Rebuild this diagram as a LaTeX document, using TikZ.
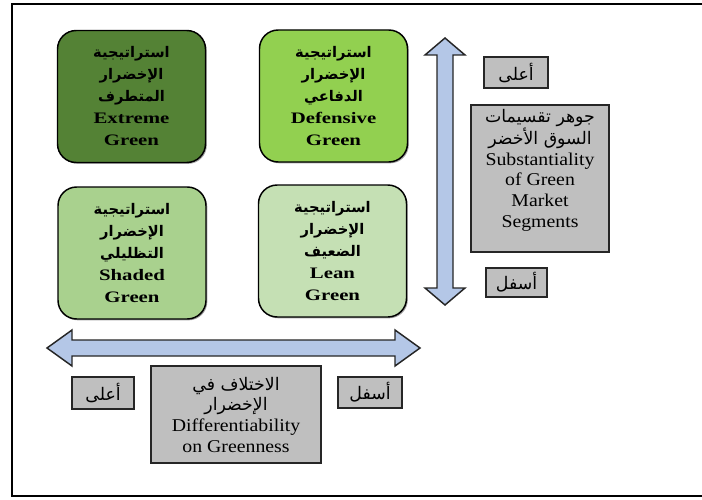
\documentclass[tikz,border=0pt]{standalone}
\usepackage{fontspec}
\setmainfont{Liberation Serif}
\newfontfamily\enbold{Liberation Serif}[FakeStretch=1.3]
\newfontfamily\enreg{Liberation Serif}[FakeStretch=1.1]
\newfontfamily\arfont[Script=Arabic]{DejaVu Sans}
\TeXXeTstate=1
\usetikzlibrary{shadows}
\definecolor{gExtreme}{HTML}{548235}
\definecolor{gDefensive}{HTML}{92D050}
\definecolor{gShaded}{HTML}{A9D18E}
\definecolor{gLean}{HTML}{C5E0B4}
\definecolor{grayfill}{HTML}{BFBFBF}
\definecolor{arrowblue}{HTML}{B4C7E7}
\newcommand\AB[1]{{\arfont\bfseries\fontsize{11}{16.5}\selectfont\beginR #1\endR}}
\newcommand\AR[1]{{\arfont\fontsize{13}{15.5}\selectfont\beginR #1\endR}}
\newcommand\EN[1]{{\enreg\fontsize{13.5}{15.5}\selectfont #1}}
\tikzset{
  greenbox/.style={draw=black, line width=1.1pt, rounded corners=14pt,
    minimum width=111pt, minimum height=99pt, inner sep=0pt, align=center,
    font=\enbold\bfseries\fontsize{12}{16.5}\selectfont,
    drop shadow={shadow xshift=1pt, shadow yshift=-1pt, fill=black!60, opacity=0.6}},
  graybox/.style={draw=black!85, line width=0.8pt, fill=grayfill, inner sep=0pt,
    align=center, font=\enreg\fontsize{13.5}{15.5}\selectfont,
    drop shadow={shadow xshift=1pt, shadow yshift=-1pt, fill=black!70, opacity=0.7}},
  graytext/.style={inner sep=0pt, align=center, font=\enreg\fontsize{13.5}{15.5}\selectfont},
  bigarrow/.style={draw=black!85, line width=1.1pt, fill=arrowblue, line join=miter},
}
\begin{document}
\begin{tikzpicture}[x=0.75pt, y=-0.75pt]
\useasboundingbox (0,0) rectangle (702,499);
% outer frame
\draw[line width=1.6pt] (702,4) -- (12,4) -- (12,496) -- (702,496);

% green strategy boxes
\node[greenbox, fill=gExtreme] (extreme) at (131.5,96.5)
  {\AB{استراتيجية}\\\AB{الإخضرار}\\\AB{المتطرف}\\Extreme\\Green};
\node[greenbox, fill=gDefensive] (defensive) at (333.5,96)
  {\AB{استراتيجية}\\\AB{الإخضرار}\\\AB{الدفاعي}\\Defensive\\Green};
\node[greenbox, fill=gShaded] (shaded) at (132,253)
  {\AB{استراتيجية}\\\AB{الإخضرار}\\\AB{التظليلي}\\Shaded\\Green};
\node[greenbox, fill=gLean] (lean) at (332.5,251)
  {\AB{استراتيجية}\\\AB{الإخضرار}\\\AB{الضعيف}\\Lean\\Green};

% vertical double arrow
\draw[bigarrow] (445,38) -- (465,55) -- (453,55) -- (453,288) -- (465,288)
  -- (445,305) -- (425,288) -- (437,288) -- (437,55) -- (425,55) -- cycle;
% horizontal double arrow
\draw[bigarrow] (47,348) -- (72,330) -- (72,340) -- (395,340) -- (395,330)
  -- (420,348) -- (395,366) -- (395,356) -- (72,356) -- (72,366) -- cycle;

% right side labels
\node[graybox, minimum width=48pt, minimum height=23.25pt] (vhigh) at (516,72.5) {\AR{أعلى}};
\node[graybox, minimum width=103.5pt, minimum height=110.25pt] (vaxis) at (540,178.5) {};
\node[graytext] (vaxistext) at (540,170)
  {\AR{جوهر تقسيمات}\\\AR{السوق الأخضر}\\\EN{Substantiality}\\\EN{of Green}\\\EN{Market}\\\EN{Segments}};
\node[graybox, minimum width=45.75pt, minimum height=21.75pt] (vlow) at (516.5,282.5) {\AR{أسفل}};

% bottom labels
\node[graybox, minimum width=46.5pt, minimum height=24pt] (hhigh) at (103,393) {\AR{أعلى}};
\node[graybox, minimum width=127.5pt, minimum height=72.75pt] (haxis) at (236,414.5)
  {\AR{الاختلاف في}\\\AR{الإخضرار}\\\EN{Differentiability}\\\EN{on Greenness}};
\node[graybox, minimum width=48pt, minimum height=23.25pt] (hlow) at (370,392.5) {\AR{أسفل}};
\end{tikzpicture}
\end{document}
